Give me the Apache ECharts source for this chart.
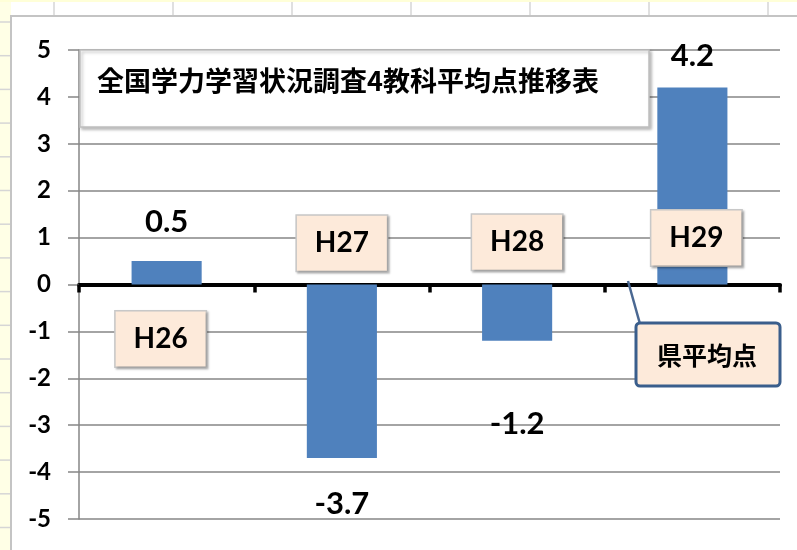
<!DOCTYPE html>
<html>
<head>
<meta charset="utf-8">
<script src="https://cdn.jsdelivr.net/npm/echarts@6/dist/echarts.min.js"></script>
<style>
html,body{margin:0;padding:0;background:#fff;}
#c{width:797px;height:550px;}
</style>
</head>
<body>
<div id="c"></div>
<script>
// ---- data ----
const categories = ['H26', 'H27', 'H28', 'H29'];
const values = [0.5, -3.7, -1.2, 4.2];
const yMin = -5, yMax = 5, yInterval = 1;
const titleText = '全国学力学習状況調査4教科平均点推移表';
const calloutText = '県平均点';
// ---- layout (not data) ----
const labelDistance = [24, 30, 68, 16];          // data-label distance from bar end
const tagAnchorY = [-1.16, 0.88, 0.9, 0.99];      // category tag centres (value units)
const tagOffsetX = [-6, 0, 0, 4];

const chart = echarts.init(document.getElementById('c'), null, {renderer: 'canvas'});

// spreadsheet backdrop
const bg = [];
bg.push({type: 'rect', shape: {x: 0, y: 0, width: 11, height: 550}, style: {fill: '#FFFFE6'}, z: -10, silent: true});
bg.push({type: 'rect', shape: {x: 0, y: 0, width: 797, height: 2}, style: {fill: '#FFFFD8'}, z: -10, silent: true});
[54, 173, 292, 411, 530, 649, 768].forEach(x => bg.push({type: 'line', shape: {x1: x, y1: 2, x2: x, y2: 16}, style: {stroke: '#D6D6D6', lineWidth: 1.5}, z: -10, silent: true}));
for (let y = 22; y < 550; y += 33.7) bg.push({type: 'line', shape: {x1: 0, y1: y, x2: 11, y2: y}, style: {stroke: '#D6D6D6', lineWidth: 1.5}, z: -10, silent: true});
bg.push({type: 'rect', shape: {x: 11, y: 16, width: 800, height: 560}, style: {fill: '#fff', stroke: '#C4C4C4', lineWidth: 2}, z: -9, silent: true});
// title box
bg.push({type: 'rect', shape: {x: 80, y: 50, width: 569, height: 77}, style: {fill: '#fff', stroke: '#BFBFBF', lineWidth: 1.5, shadowColor: 'rgba(0,0,0,0.25)', shadowBlur: 3, shadowOffsetX: 2, shadowOffsetY: 2}, z: 50});
bg.push({type: 'text', x: 97, y: 81, style: {text: titleText, font: 'bold 27px "Noto Sans CJK JP"', fill: '#000', align: 'left', verticalAlign: 'middle', shadowColor: 'rgba(0,0,0,0.35)', shadowBlur: 1, shadowOffsetX: 1, shadowOffsetY: 1}, z: 51});
// callout
bg.push({type: 'line', shape: {x1: 628, y1: 281, x2: 640, y2: 324}, style: {stroke: '#4A6892', lineWidth: 2.5}, z: 50});
bg.push({type: 'rect', shape: {x: 636, y: 323, width: 144, height: 63, r: 4}, style: {fill: '#FDEADA', stroke: '#3A5E8C', lineWidth: 3}, z: 50});
bg.push({type: 'text', x: 707, y: 355, style: {text: calloutText, font: 'bold 25px "Noto Sans CJK JP"', fill: '#000', align: 'center', verticalAlign: 'middle'}, z: 51});

const option = {
  backgroundColor: '#fff',
  animation: false,
  grid: {left: 79, right: 17, top: 50, bottom: 31, containLabel: false},
  xAxis: {
    type: 'category',
    data: categories,
    axisLine: {onZero: true, lineStyle: {color: '#000', width: 4}},
    axisTick: {show: true, length: 8, lineStyle: {color: '#000', width: 3.5}},
    axisLabel: {show: false},
    splitLine: {show: false}
  },
  yAxis: {
    type: 'value',
    min: yMin, max: yMax, interval: yInterval,
    axisLine: {show: true, lineStyle: {color: '#868686', width: 1.5}},
    axisTick: {show: true, length: 11, lineStyle: {color: '#868686', width: 1.5}},
    axisLabel: {margin: 28, fontFamily: 'Lato', fontWeight: 'bold', fontSize: 24, color: '#000'},
    splitLine: {show: true, lineStyle: {color: '#868686', width: 1.5}}
  },
  series: [
    {
      type: 'bar',
      barWidth: '40%',
      data: values.map((v, i) => ({
        value: v,
        label: {show: true, position: v >= 0 ? 'top' : 'bottom', distance: labelDistance[i]}
      })),
      itemStyle: {color: '#4F81BD'},
      label: {fontFamily: 'Lato', fontWeight: 'bold', fontSize: 31, color: '#000'}
    },
    {
      type: 'scatter',
      symbolSize: 1,
      silent: true,
      z: 5,
      itemStyle: {color: 'rgba(0,0,0,0)', opacity: 1},
      data: categories.map((c, i) => ({
        value: [i, tagAnchorY[i]],
        label: {offset: [tagOffsetX[i], 0]}
      })),
      label: {
        show: true, position: 'inside',
        formatter: p => categories[p.dataIndex],
        fontFamily: 'Lato', fontWeight: 'bold', fontSize: 28, color: '#000', opacity: 1,
        backgroundColor: '#FDEADA', borderColor: '#C8C8C8', borderWidth: 1.5,
        width: 52, height: 31, lineHeight: 31, align: 'center', verticalAlign: 'middle',
        padding: [12, 19],
        shadowColor: 'rgba(0,0,0,0.25)', shadowBlur: 2, shadowOffsetX: 1.5, shadowOffsetY: 1.5
      }
    }
  ],
  graphic: bg
};
chart.setOption(option);
</script>
</body>
</html>
